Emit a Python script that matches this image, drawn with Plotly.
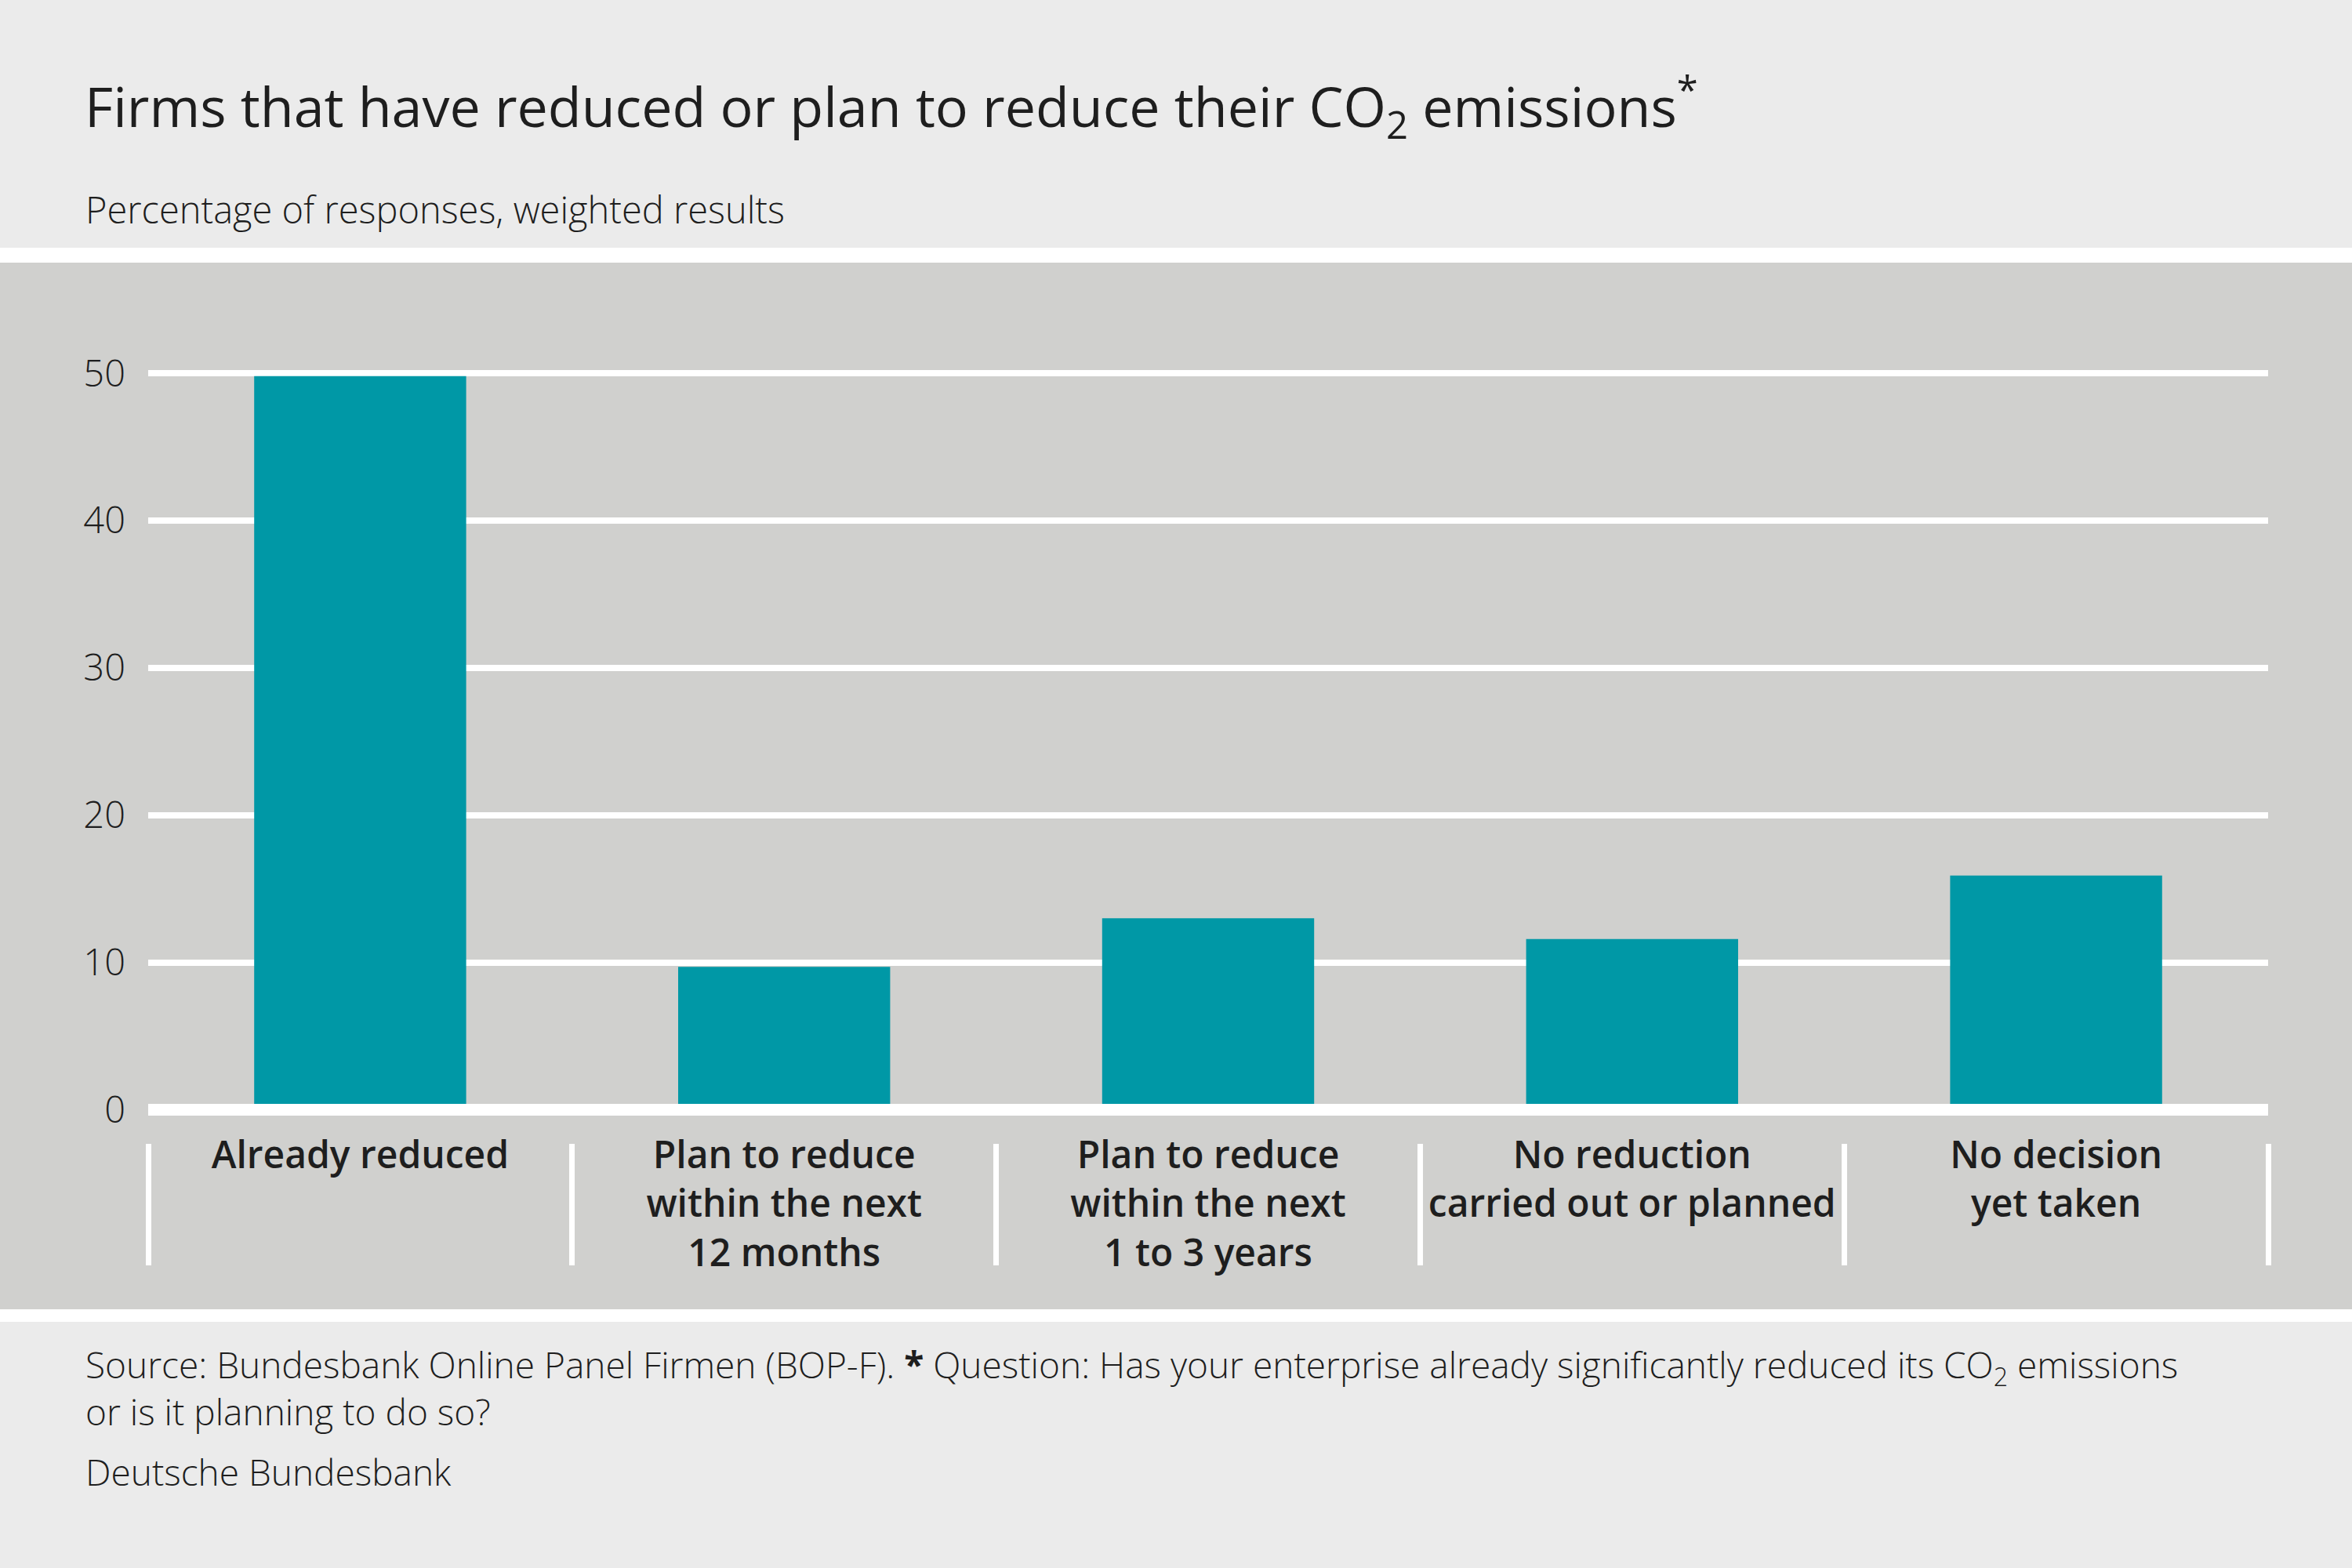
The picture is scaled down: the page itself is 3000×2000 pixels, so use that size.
import plotly.graph_objects as go

categories = [
    "Already reduced",
    "Plan to reduce<br>within the next<br>12 months",
    "Plan to reduce<br>within the next<br>1 to 3 years",
    "No reduction<br>carried out or planned",
    "No decision<br>yet taken",
]
values = [49.8, 9.7, 13.0, 11.6, 15.9]
y_ticks = [0, 10, 20, 30, 40, 50]

title_text = "Firms that have reduced or plan to reduce their CO<sub>2</sub> emissions<sup>*</sup>"
subtitle_text = "Percentage of responses, weighted results"
source_text = ("Source: Bundesbank Online Panel Firmen (BOP-F). <b>*</b> Question: Has your enterprise already "
               "significantly reduced its CO<sub>2</sub> emissions<br>or is it planning to do so?")
org_text = "Deutsche Bundesbank"

W, H = 3000, 2000
ML, MR, MT, MB = 189, 107, 335, 542
PW, PH = W - ML - MR, H - MT - MB

BAR = "#0098a6"
HEAD_BG = "#ebebeb"
BAND = "#d0d0ce"
TXT = "#1e1e1e"
FONT = "Open Sans"


def px_x(p):
    return (p - ML) / PW


def px_y(p):
    return (H - MB - p) / PH


fig = go.Figure()
fig.add_trace(go.Bar(x=categories, y=values, marker=dict(color=BAR, line=dict(width=0)),
                     hoverinfo="x+y"))

shapes = [
    dict(type="rect", xref="paper", yref="paper", x0=px_x(0), x1=px_x(W),
         y0=px_y(316), y1=px_y(1686), fillcolor="white", line=dict(width=0), layer="below"),
    dict(type="rect", xref="paper", yref="paper", x0=px_x(0), x1=px_x(W),
         y0=px_y(335), y1=px_y(1670), fillcolor=BAND, line=dict(width=0), layer="below"),
    dict(type="line", xref="paper", yref="y", x0=0, x1=1, y0=0, y1=0,
         line=dict(color="white", width=15), layer="above"),
]

annotations = [
    dict(text=title_text, xref="paper", yref="paper", x=px_x(106), y=px_y(136),
         xanchor="left", yanchor="middle", showarrow=False,
         font=dict(family=FONT, size=70, color=TXT, weight=500)),
    dict(text=subtitle_text, xref="paper", yref="paper", x=px_x(107), y=px_y(267),
         xanchor="left", yanchor="middle", showarrow=False,
         font=dict(family=FONT, size=47, color=TXT, weight=300)),
    dict(text=source_text, xref="paper", yref="paper", x=px_x(107), y=px_y(1770),
         xanchor="left", yanchor="middle", align="left", showarrow=False,
         font=dict(family=FONT, size=46, color=TXT, weight=300)),
    dict(text=org_text, xref="paper", yref="paper", x=px_x(107), y=px_y(1877),
         xanchor="left", yanchor="middle", showarrow=False,
         font=dict(family=FONT, size=46, color=TXT, weight=300)),
]

y0_px = 1415.6
unit = 18.79
y_top = (y0_px - MT) / unit
y_bot = -((H - MB) - y0_px) / unit

fig.update_layout(
    width=W, height=H,
    margin=dict(l=ML, r=MR, t=MT, b=MB, pad=0),
    paper_bgcolor=HEAD_BG,
    plot_bgcolor="rgba(0,0,0,0)",
    bargap=0.5,
    showlegend=False,
    shapes=shapes,
    annotations=annotations,
    font=dict(family=FONT, color=TXT),
    xaxis=dict(
        type="category",
        range=[-0.5, len(categories) - 0.5],
        showgrid=False, zeroline=False, showline=False,
        ticks="outside", tickson="boundaries", ticklen=155, tickwidth=7, tickcolor="white",
        ticklabelstandoff=-17,
        tickfont=dict(family=FONT, size=48, color=TXT, weight=550),
        fixedrange=True,
    ),
    yaxis=dict(
        range=[y_bot, y_top],
        tickvals=y_ticks,
        showgrid=True, gridcolor="white", gridwidth=8,
        zeroline=False, showline=False,
        ticks="", ticklabelstandoff=28,
        tickfont=dict(family=FONT, size=47, color=TXT, weight=300),
        fixedrange=True,
    ),
)

fig.write_html("out.html", config={"displayModeBar": False},
               post_script="document.body.style.margin='0px';")
